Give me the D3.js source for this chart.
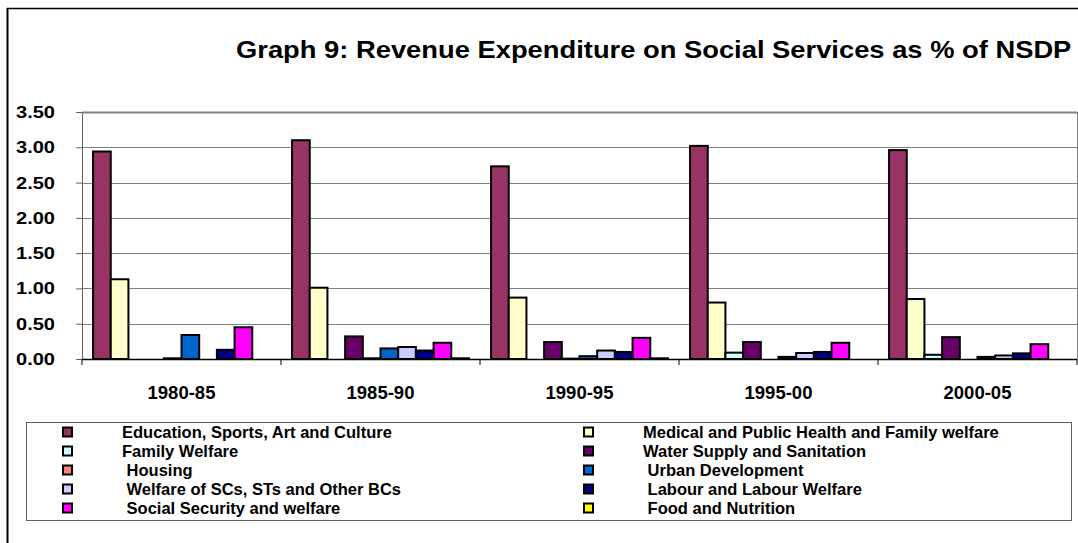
<!DOCTYPE html>
<html>
<head>
<meta charset="utf-8">
<script src="https://cdnjs.cloudflare.com/ajax/libs/d3/7.8.5/d3.min.js"></script>
<style>
  body { margin: 0; background: #fff; }
  svg { display: block; font-family: Arial, "Liberation Sans", sans-serif; }
</style>
</head>
<body>
<div class="wrapper"></div>
<script>
var categories = ["1980-85", "1985-90", "1990-95", "1995-00", "2000-05"];
var seriesNames = [
  "Education, Sports, Art and Culture",
  "Medical and Public Health and Family welfare",
  "Family Welfare",
  "Water Supply and Sanitation",
  " Housing",
  " Urban Development",
  " Welfare of SCs, STs and Other BCs",
  " Labour and Labour Welfare",
  " Social Security and welfare",
  " Food and Nutrition"
];
var seriesColors = ["#993366", "#FFFFCC", "#CCFFFF", "#660066", "#FF8080",
  "#0066CC", "#CCCCFF", "#000080", "#FF00FF", "#FFFF00"];

var education = [2.94, 3.10, 2.73, 3.02, 2.96];
var medical = [1.13, 1.01, 0.87, 0.80, 0.85];
var familyWelfare = [0, 0, 0, 0.09, 0.06];
var waterSupply = [0, 0.32, 0.24, 0.24, 0.31];
var housing = [0.01, 0.01, 0.005, 0, 0];
var urbanDev = [0.34, 0.15, 0.04, 0.03, 0.03];
var welfareSC = [0, 0.17, 0.12, 0.085, 0.05];
var labour = [0.13, 0.12, 0.10, 0.10, 0.08];
var socialSecurity = [0.45, 0.23, 0.30, 0.23, 0.21];
var food = [0, 0.01, 0.01, 0, 0];

var yTicks = [0, 0.5, 1, 1.5, 2, 2.5, 3, 3.5];

var seriesValues = [education, medical, familyWelfare, waterSupply, housing,
  urbanDev, welfareSC, labour, socialSecurity, food];

var width = 1078, height = 543;
var svg = d3.select(".wrapper").append("svg")
  .attr("width", width)
  .attr("height", height);

// outer chart frame
svg.append("line").attr("x1", 7).attr("x2", width).attr("y1", 8.5).attr("y2", 8.5)
  .attr("stroke", "#000").attr("stroke-width", 1.5);
svg.append("line").attr("x1", 7.5).attr("x2", 7.5).attr("y1", 8).attr("y2", height)
  .attr("stroke", "#000").attr("stroke-width", 2);

// the original picture is stretched sideways: scale the title glyphs to its width
var title = svg.append("text")
  .attr("x", 0)
  .attr("y", 0)
  .attr("font-size", 23)
  .attr("font-weight", "bold")
  .text("Graph 9: Revenue Expenditure on Social Services as % of NSDP");
var titleLen = title.node().getComputedTextLength();
title.attr("transform", "translate(236,58) scale(" + (836 / titleLen) + ",1)");

var plot = {left: 82, right: 1077, top: 112, bottom: 359};

var x0 = d3.scaleBand()
  .domain(categories)
  .range([plot.left, plot.right])
  .paddingInner(0)
  .paddingOuter(0);

var gap = x0.bandwidth() * 1.25 / 11.25;
var x1 = d3.scaleBand()
  .domain(d3.range(seriesNames.length))
  .range([gap / 2, x0.bandwidth() - gap / 2]);

var y = d3.scaleLinear()
  .domain([0, 3.5])
  .range([plot.bottom, plot.top]);

// gridlines
svg.append("g")
  .selectAll("line")
  .data(yTicks.slice(1))
  .enter().append("line")
    .attr("x1", plot.left)
    .attr("x2", plot.right)
    .attr("y1", function(d) { return Math.round(y(d)) + 0.5; })
    .attr("y2", function(d) { return Math.round(y(d)) + 0.5; })
    .attr("stroke", "#808080")
    .attr("stroke-width", function(d) { return d === 3.5 ? 2 : 1; });

// plot area right border
svg.append("line")
  .attr("x1", plot.right + 0.5).attr("x2", plot.right + 0.5)
  .attr("y1", plot.top).attr("y2", plot.bottom)
  .attr("stroke", "#808080");

// bars
svg.append("g")
  .selectAll("g")
  .data(categories)
  .enter().append("g")
    .attr("transform", function(d) { return "translate(" + x0(d) + ",0)"; })
  .selectAll("rect")
  .data(function(cat, ci) {
    return seriesValues.map(function(vals, si) {
      return {series: si, value: vals[ci]};
    });
  })
  .enter().append("rect")
    .attr("x", function(d) { return x1(d.series); })
    .attr("y", function(d) { return y(d.value); })
    .attr("width", x1.bandwidth())
    .attr("height", function(d) { return y(0) - y(d.value); })
    .attr("fill", function(d) { return seriesColors[d.series]; })
    .attr("stroke", "#000")
    .attr("stroke-width", 2);

// y axis
var yAxis = svg.append("g")
  .attr("transform", "translate(" + plot.left + ",0)")
  .call(d3.axisLeft(y).tickValues(yTicks).tickSize(6).tickPadding(21)
    .tickFormat(d3.format(".2f")));
yAxis.select(".domain").attr("stroke", "#606060");
yAxis.selectAll(".tick line").attr("stroke", "#606060");
yAxis.selectAll("text")
  .attr("font-size", 17)
  .attr("font-weight", "bold")
  .attr("font-family", "Arial, 'Liberation Sans', sans-serif")
  .attr("fill", "#000")
  .attr("textLength", 39)
  .attr("lengthAdjust", "spacingAndGlyphs");

// x axis
var xAxis = svg.append("g")
  .attr("transform", "translate(0," + plot.bottom + ")");
xAxis.append("line")
  .attr("x1", plot.left).attr("x2", plot.right)
  .attr("y1", 0.5).attr("y2", 0.5)
  .attr("stroke", "#000").attr("stroke-width", 1.5);
xAxis.selectAll(".sep")
  .data(categories.concat(["end"]))
  .enter().append("line")
    .attr("class", "sep")
    .attr("x1", function(d, i) { return plot.left + i * x0.bandwidth(); })
    .attr("x2", function(d, i) { return plot.left + i * x0.bandwidth(); })
    .attr("y1", 0).attr("y2", 6)
    .attr("stroke", "#000");
xAxis.selectAll(".lbl")
  .data(categories)
  .enter().append("text")
    .attr("class", "lbl")
    .attr("x", function(d) { return x0(d) + x0.bandwidth() / 2; })
    .attr("y", 40)
    .attr("text-anchor", "middle")
    .attr("font-size", 18.5)
    .attr("font-weight", "bold")
    .text(function(d) { return d; });

// legend
var legendBox = {x: 26, y: 422, w: 1045, h: 98};
svg.append("rect")
  .attr("x", legendBox.x + 0.5).attr("y", legendBox.y + 0.5)
  .attr("width", legendBox.w).attr("height", legendBox.h)
  .attr("fill", "#fff").attr("stroke", "#606060");

var legend = svg.append("g")
  .selectAll("g")
  .data(seriesNames)
  .enter().append("g")
    .attr("transform", function(d, i) {
      var col = i % 2, row = Math.floor(i / 2);
      return "translate(" + (col === 0 ? 63 : 584) + "," + (432 + row * 19) + ")";
    });

legend.append("rect")
  .attr("x", 0).attr("y", -4.5)
  .attr("width", 9).attr("height", 9)
  .attr("fill", function(d, i) { return seriesColors[i]; })
  .attr("stroke", "#000")
  .attr("stroke-width", 2);

legend.append("text")
  .attr("x", 59)
  .attr("y", 0)
  .attr("dy", "0.35em")
  .attr("font-size", 16.5)
  .attr("font-weight", "bold")
  .style("white-space", "pre")
  .text(function(d) { return d; });
</script>
</body>
</html>
